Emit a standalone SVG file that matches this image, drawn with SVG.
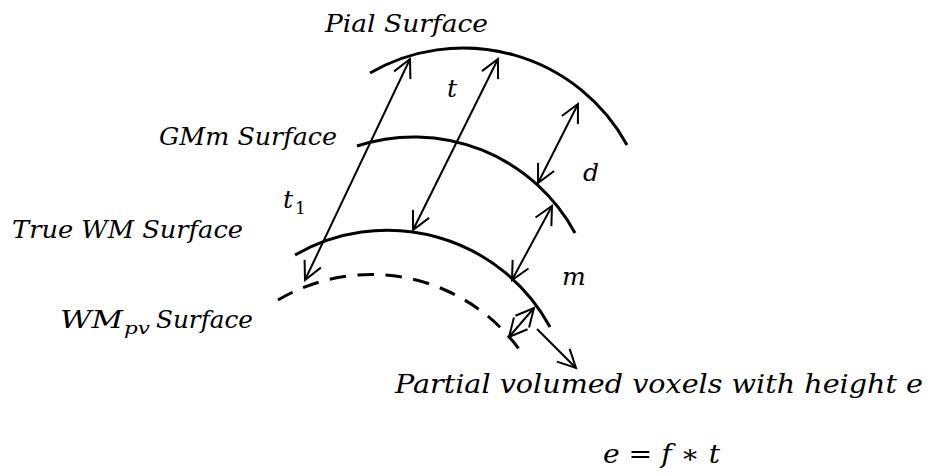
<svg xmlns="http://www.w3.org/2000/svg" width="928" height="476" viewBox="0 0 928 476">
<style>
.bg{fill:#ffffff}
.surf{fill:none;stroke:#000;stroke-width:3}
.dash{stroke-dasharray:16.5 11.5}
.arr{fill:none;stroke:#000;stroke-width:2;marker-end:url(#ah)}
.dbl{marker-start:url(#ah)}
.lbl{font-family:"DejaVu Serif","Liberation Serif",serif;font-style:italic;font-size:25px;fill:#000}
.big{font-size:26px}
.sub{font-size:17px}
.up{font-style:normal}
</style>
<defs>
<marker id="ah" markerUnits="userSpaceOnUse" markerWidth="40" markerHeight="40" refX="0" refY="0" viewBox="-20 -20 40 40" orient="auto-start-reverse" overflow="visible">
<path d="M-18,-9 L0,0 L-18,9" fill="none" stroke="#000" stroke-width="2"/>
</marker>
</defs>
<rect class="bg" x="0" y="0" width="928" height="476"/>
<g id="pial-surface">
<path class="surf" d="M370,73 A186.6,186.6 0 0 1 627,145"/>
<text class="lbl" x="325" y="32" textLength="163" lengthAdjust="spacingAndGlyphs">Pial Surface</text>
</g>
<g id="gmm-surface">
<path class="surf" d="M357,146 A183,183 0 0 1 575,233"/>
<text class="lbl" x="159" y="145" textLength="178" lengthAdjust="spacingAndGlyphs">GMm Surface</text>
</g>
<g id="true-wm-surface">
<path class="surf" d="M295,255 A185,185 0 0 1 550,327"/>
<text class="lbl" x="12" y="238" textLength="231" lengthAdjust="spacingAndGlyphs">True WM Surface</text>
</g>
<g id="wmpv-surface">
<path class="surf dash" d="M278,300 A183.6,183.6 0 0 1 519,349"/>
<text class="lbl" x="60" y="328"><tspan textLength="63" lengthAdjust="spacingAndGlyphs">WM</tspan><tspan class="sub" x="124" y="334" textLength="26" lengthAdjust="spacingAndGlyphs">pv</tspan><tspan x="156" y="328" textLength="97" lengthAdjust="spacingAndGlyphs">Surface</tspan></text>
</g>
<g id="connectors">
<line class="arr dbl" x1="305" y1="280" x2="410" y2="59"/>
<line class="arr dbl" x1="413" y1="230" x2="498" y2="59"/>
<line class="arr dbl" x1="538" y1="183" x2="578" y2="104"/>
<line class="arr dbl" x1="512" y1="280" x2="552" y2="206"/>
<line class="arr dbl" x1="509" y1="337" x2="534" y2="308"/>
<line class="arr" x1="537" y1="329" x2="576" y2="368"/>
</g>
<g id="labels">
<text class="lbl" x="447" y="97">t</text>
<text class="lbl" x="283" y="208">t<tspan class="sub up" x="295" y="214">1</tspan></text>
<text class="lbl" x="583" y="181">d</text>
<text class="lbl" x="562" y="285">m</text>
</g>
<g id="partial-volume-label">
<text class="lbl big" x="395" y="393" textLength="528" lengthAdjust="spacingAndGlyphs">Partial volumed voxels with height e</text>
<text class="lbl big" x="603" y="463" textLength="117" lengthAdjust="spacingAndGlyphs">e <tspan class="up">=</tspan> f <tspan class="up">∗</tspan> t</text>
</g>
</svg>
